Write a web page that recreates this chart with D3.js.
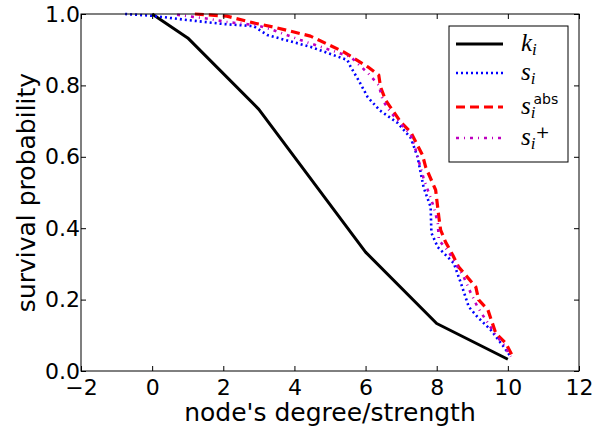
<!DOCTYPE html>
<html>
<head>
<meta charset="utf-8">
<script src="https://cdn.jsdelivr.net/npm/d3@7"></script>
<style>
  body { margin: 0; background: #fff; }
  svg { display: block; }
</style>
</head>
<body>
<div id="chart"></div>
<script>
// survival curves
const degX = [0, 1, 3, 6, 8, 10];
const degY = [1.0, 0.933, 0.733, 0.333, 0.133, 0.033];

const sX = [-0.76, 0, 1, 2, 2.85, 3.24, 4.45, 5.49, 5.58, 5.8, 6.06, 6.4, 6.9, 7.27, 7.46, 7.63, 7.83, 7.85, 8.03, 8.2, 8.48, 8.68, 8.9, 9.15, 9.52, 9.89, 10.08];
const sY = [1.0, 0.995, 0.983, 0.972, 0.966, 0.941, 0.908, 0.871, 0.852, 0.815, 0.767, 0.73, 0.695, 0.653, 0.6, 0.515, 0.459, 0.387, 0.347, 0.33, 0.302, 0.246, 0.18, 0.151, 0.115, 0.067, 0.04];

const absX = [1.2, 2.1, 2.85, 3.52, 4.45, 5.38, 6.06, 6.37, 6.42, 6.56, 6.99, 7.27, 7.6, 7.69, 7.97, 8.06, 8.11, 8.25, 8.45, 8.62, 9.1, 9.18, 9.44, 9.66, 9.94, 10.14];
const absY = [1.0, 0.994, 0.975, 0.961, 0.938, 0.894, 0.852, 0.829, 0.796, 0.759, 0.697, 0.669, 0.605, 0.571, 0.507, 0.431, 0.395, 0.361, 0.325, 0.291, 0.235, 0.199, 0.171, 0.106, 0.078, 0.04];

const plusX = [0.7, 1.15, 1.63, 2.06, 2.9, 3.32, 4.17, 5.01, 5.58, 6.06, 6.37, 6.48, 6.7, 7.27, 7.41, 7.63, 7.92, 8.03, 8.06, 8.34, 8.59, 8.76, 8.96, 9.15, 9.38, 9.66, 9.89, 10.08];
const plusY = [0.998, 0.992, 0.986, 0.978, 0.969, 0.958, 0.927, 0.899, 0.88, 0.835, 0.801, 0.759, 0.725, 0.661, 0.619, 0.54, 0.459, 0.415, 0.367, 0.333, 0.291, 0.263, 0.218, 0.179, 0.143, 0.101, 0.073, 0.04];

const xTicks = [-2, 0, 2, 4, 6, 8, 10, 12];
const yTicks = [0, 0.2, 0.4, 0.6, 0.8, 1.0];

const series = [
  { name: "k", sup: "", x: degX, y: degY, color: "#000000", width: 3, dash: null },
  { name: "s", sup: "", x: sX, y: sY, color: "#0000ff", width: 2.6, dash: "2,3" },
  { name: "s", sup: "abs", x: absX, y: absY, color: "#ff0000", width: 3.2, dash: "9,5" },
  { name: "s", sup: "+", x: plusX, y: plusY, color: "#bf00bf", width: 2.6, dash: "3,5,1,5" }
];

const W = 602, H = 433;
const margin = { top: 14, right: 23, bottom: 62, left: 81 };

const svg = d3.select("#chart").append("svg")
  .attr("width", W)
  .attr("height", H);

const x = d3.scaleLinear().domain([-2, 12]).range([margin.left, W - margin.right]);
const y = d3.scaleLinear().domain([0, 1]).range([H - margin.bottom, margin.top]);

// curves
const line = d3.line().x(d => x(d[0])).y(d => y(d[1]));
series.forEach(s => {
  svg.append("path")
    .datum(s.x.map((v, i) => [v, s.y[i]]))
    .attr("d", line)
    .attr("fill", "none")
    .attr("stroke", s.color)
    .attr("stroke-width", s.width)
    .attr("stroke-dasharray", s.dash)
    .attr("stroke-linejoin", "round");
});

// axes, ticks pointing inward on all four sides
const fmtX = d => d < 0 ? "\u2212" + Math.abs(d) : d;
svg.append("g")
  .attr("transform", `translate(0,${y(0)})`)
  .call(d3.axisBottom(x).tickValues(xTicks).tickFormat(fmtX).tickSizeInner(-5).tickSizeOuter(0).tickPadding(8))
  .call(g => g.select(".domain").remove())
  .selectAll("text").style("font-family", "DejaVu Sans").style("font-size", "22px").attr("fill", "#000");
svg.append("g")
  .attr("transform", `translate(0,${y(1)})`)
  .call(d3.axisTop(x).tickValues(xTicks).tickFormat("").tickSizeInner(-5).tickSizeOuter(0))
  .call(g => g.select(".domain").remove());
svg.append("g")
  .attr("transform", `translate(${x(-2)},0)`)
  .call(d3.axisLeft(y).tickValues(yTicks).tickFormat(d3.format(".1f")).tickSizeInner(-5).tickSizeOuter(0).tickPadding(1))
  .call(g => g.select(".domain").remove())
  .selectAll("text").style("font-family", "DejaVu Sans").style("font-size", "22px").attr("fill", "#000");
svg.append("g")
  .attr("transform", `translate(${x(12)},0)`)
  .call(d3.axisRight(y).tickValues(yTicks).tickFormat("").tickSizeInner(-5).tickSizeOuter(0))
  .call(g => g.select(".domain").remove());
svg.selectAll(".tick line").attr("stroke", "#000");

svg.append("rect")
  .attr("x", x(-2)).attr("y", y(1))
  .attr("width", x(12) - x(-2)).attr("height", y(0) - y(1))
  .attr("fill", "none").attr("stroke", "#000").attr("stroke-width", 1);

// axis labels
svg.append("text")
  .attr("x", (x(-2) + x(12)) / 2).attr("y", 421)
  .attr("text-anchor", "middle")
  .style("font-family", "DejaVu Sans").style("font-size", "25px")
  .text("node's degree/strength");
svg.append("text")
  .attr("transform", `translate(35,${(y(0) + y(1)) / 2}) rotate(-90)`)
  .attr("text-anchor", "middle")
  .style("font-family", "DejaVu Sans").style("font-size", "25px")
  .text("survival probability");

// legend
const leg = svg.append("g");
leg.append("rect")
  .attr("x", 449).attr("y", 26).attr("width", 119).attr("height", 136)
  .attr("fill", "#fff").attr("stroke", "#000").attr("stroke-width", 1);
const rowY = [44, 73, 107, 138];
series.forEach((s, i) => {
  leg.append("line")
    .attr("x1", 456).attr("x2", 503)
    .attr("y1", rowY[i]).attr("y2", rowY[i])
    .attr("stroke", s.color)
    .attr("stroke-width", s.width)
    .attr("stroke-dasharray", s.dash);
  const base = rowY[i] + 7;
  const t = leg.append("text")
    .attr("x", 521).attr("y", base)
    .style("font-family", "Liberation Serif").style("font-style", "italic").style("font-size", "25px");
  t.append("tspan").text(s.name);
  t.append("tspan").attr("y", base + 4).style("font-size", "17px").text("i");
  if (s.sup === "abs") {
    t.append("tspan").attr("dx", -2).attr("y", base - 10)
      .style("font-family", "DejaVu Sans").style("font-style", "normal").style("font-size", "14px").text("abs");
  } else if (s.sup === "+") {
    t.append("tspan").attr("dx", 0).attr("y", base - 7)
      .style("font-family", "DejaVu Serif").style("font-style", "normal").style("font-size", "17px").text("+");
  }
});
</script>
</body>
</html>
